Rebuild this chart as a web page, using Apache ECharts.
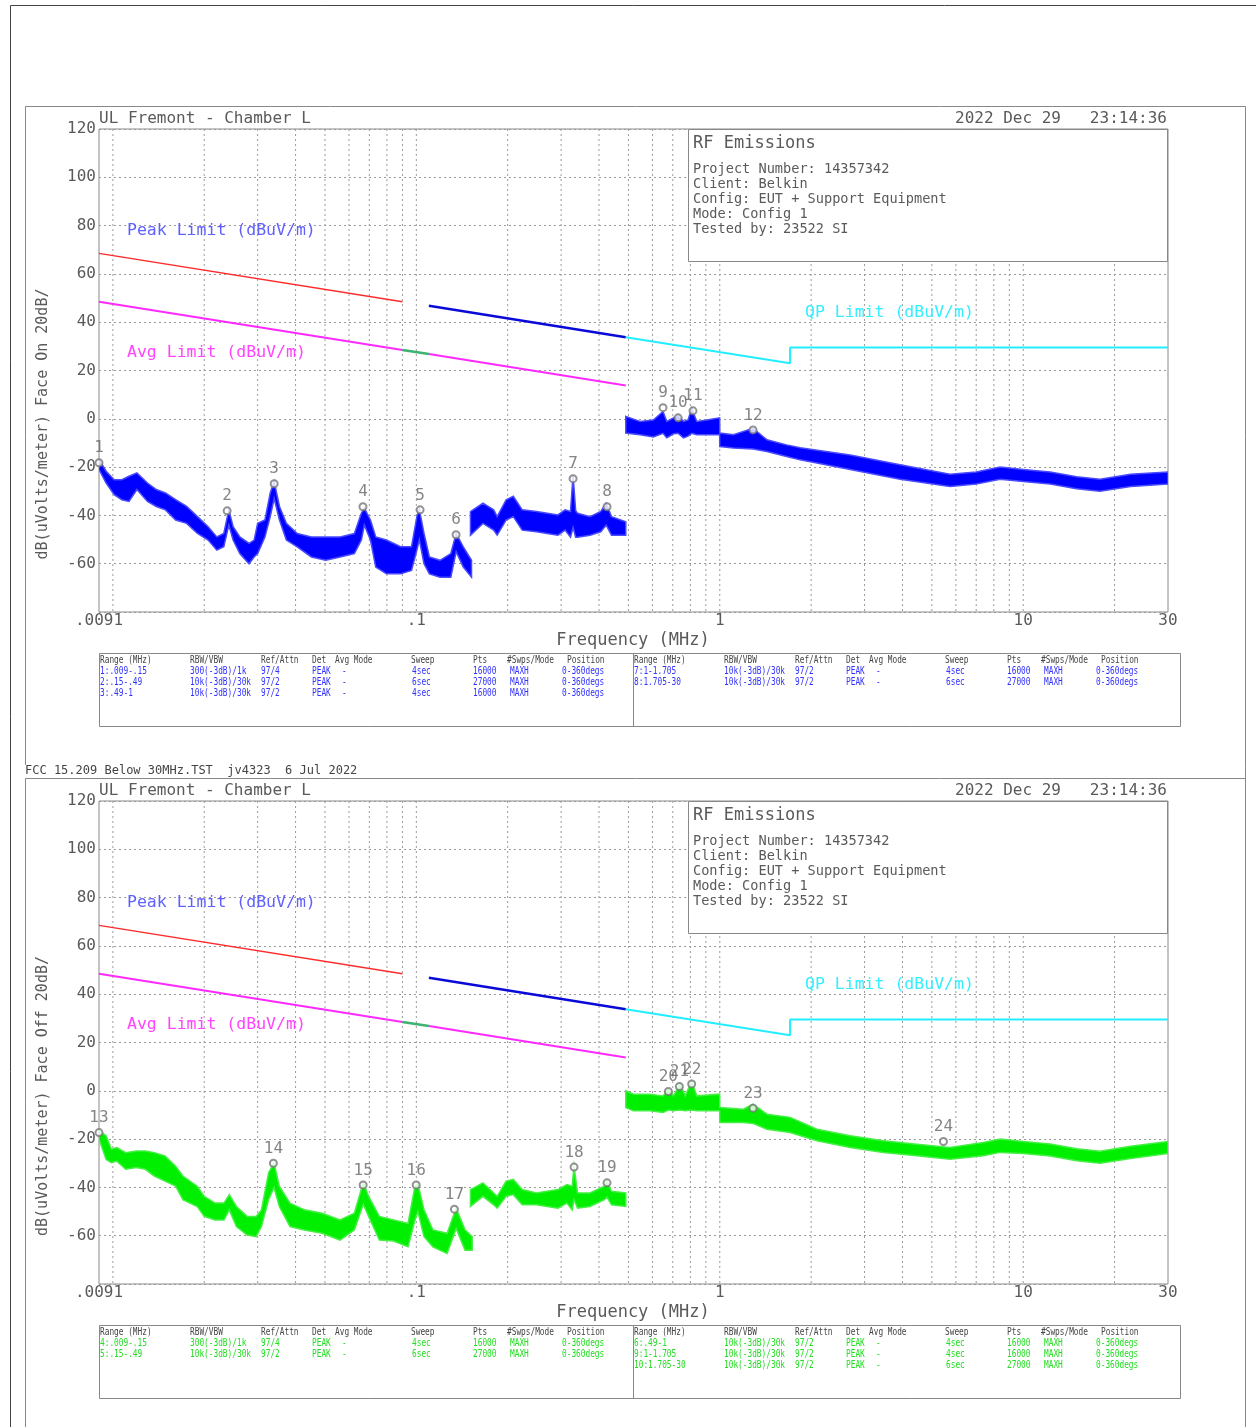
<!DOCTYPE html>
<html><head><meta charset="utf-8">
<script src="https://cdn.jsdelivr.net/npm/echarts@6/dist/echarts.min.js"></script>
<style>html,body{margin:0;padding:0;background:#fff}#c{width:1256px;height:1427px}</style>
</head><body><div id="c"></div><script>
// ---------- DATA ----------
const xLabelValues = [0.009, 0.1, 1, 10, 30];
const xLabelTexts = ['.0091', '.1', '1', '10', '30'];
const gridFreqs = [0.01,0.02,0.03,0.04,0.05,0.06,0.07,0.08,0.09,0.1,0.2,0.3,0.4,0.5,0.6,0.7,0.8,0.9,1,2,3,4,5,6,7,8,9,10,20];

// limit lines [MHz, dBuV/m]
const peakLimitA = [[0.009,68.5],[0.09,48.5]];
const avgLimitA = [[0.009,48.5],[0.09,28.5]];
const avgLimitMid = [[0.09,28.5],[0.11,26.8]];
const avgLimitB = [[0.11,26.8],[0.49,13.8]];
const peakLimitB = [[0.11,46.8],[0.49,33.8]];
const qpLimit = [[0.49,33.8],[1.705,23.0],[1.705,29.5],[30,29.5]];

// markers [MHz, dB, label]
const topMarkers = [[0.009,-18.2,'1'],[0.0238,-38.1,'2'],[0.034,-26.9,'3'],[0.0667,-36.4,'4'],[0.1029,-37.7,'5'],[0.1352,-48.0,'6'],[0.3285,-24.8,'7'],[0.425,-36.4,'8'],[0.650,4.6,'9'],[0.729,0.4,'10'],[0.816,3.3,'11'],[1.287,-4.6,'12']];
const botMarkers = [[0.009,-17.3,'13'],[0.0338,-30.0,'14'],[0.0668,-39.0,'15'],[0.0999,-39.0,'16'],[0.1335,-49.0,'17'],[0.331,-31.6,'18'],[0.425,-38.1,'19'],[0.677,-0.3,'20'],[0.736,1.8,'21'],[0.808,2.8,'22'],[1.287,-7.2,'23'],[5.46,-21.0,'24']];

// trace envelopes [MHz, upper dB, lower dB]
const topSeg1 = [[0.009,-16.8,-21.0],[0.0095,-21.7,-26.6],[0.0101,-25.2,-31.4],[0.0107,-25.2,-33.5],[0.0113,-23.8,-34.2],[0.0120,-22.4,-29.3],[0.0130,-26.6,-34.2],[0.0139,-29.3,-36.3],[0.0149,-30.7,-37.7],[0.0161,-33.5,-41.9],[0.0175,-36.3,-43.3],[0.0190,-40.5,-47.5],[0.0206,-44.7,-50.2],[0.0220,-48.9,-54.4],[0.0232,-47.5,-53.0],[0.0241,-37.7,-44.0],[0.0249,-44.7,-50.2],[0.0262,-48.9,-55.8],[0.0281,-51.6,-60.0],[0.0292,-50.2,-57.2],[0.0300,-43.3,-55.8],[0.0317,-41.9,-48.9],[0.0330,-30.7,-40.5],[0.0340,-26.0,-33.0],[0.0354,-36.3,-41.9],[0.0373,-43.3,-50.2],[0.0405,-47.5,-53.0],[0.0451,-48.9,-57.2],[0.0503,-48.9,-58.6],[0.0561,-48.9,-57.2],[0.0625,-47.5,-55.8],[0.0659,-39.1,-50.2],[0.0674,-37.0,-44.0],[0.0706,-41.9,-50.2],[0.0735,-48.9,-61.4],[0.0797,-50.2,-64.2],[0.0888,-53.0,-64.2],[0.0964,-53.0,-62.8],[0.1004,-40.5,-54.4],[0.1023,-37.5,-50.0],[0.1060,-47.5,-60.0],[0.1104,-57.2,-64.2],[0.1197,-58.6,-65.6],[0.1299,-55.8,-65.6],[0.1353,-47.5,-55.0],[0.1428,-53.0,-61.4],[0.1520,-58.6,-65.6]];
const topSeg2 = [[0.1508,-38.4,-48.2],[0.1658,-34.9,-43.3],[0.1798,-37.7,-46.1],[0.1847,-40.5,-48.2],[0.1977,-33.5,-41.9],[0.2087,-32.1,-40.5],[0.2233,-37.7,-46.1],[0.2488,-38.4,-46.8],[0.2699,-39.1,-47.5],[0.2929,-39.8,-48.2],[0.3092,-37.7,-46.1],[0.3221,-38.4,-49.0],[0.3285,-23.5,-45.0],[0.3350,-38.0,-49.0],[0.3399,-39.1,-49.0],[0.3737,-40.5,-48.2],[0.4053,-38.4,-46.8],[0.4224,-35.0,-44.0],[0.4397,-40.5,-48.2],[0.49,-42.6,-48.2]];
const topSeg3 = [[0.49,1.0,-5.9],[0.546,-1.1,-6.6],[0.604,-0.5,-7.5],[0.650,3.0,-6.0],[0.669,-1.1,-7.9],[0.704,0.4,-6.2],[0.729,1.7,-6.0],[0.759,-1.1,-7.9],[0.786,-0.5,-7.2],[0.808,4.4,-6.0],[0.840,-1.1,-6.6],[0.906,-0.5,-6.6],[0.999,0.4,-6.6],[1.0,-5.9,-11.5],[1.109,-6.6,-12.1],[1.287,-3.9,-12.5],[1.43,-8.7,-13.5],[1.66,-10.8,-15.6],[1.84,-12.0,-17.0],[2.69,-15.0,-21.0],[3.93,-19.0,-25.0],[5.74,-23.0,-28.0],[7.0,-22.0,-27.0],[8.39,-20.0,-25.0],[10,-21.0,-26.0],[12.27,-22.0,-27.0],[15,-24.0,-29.0],[17.9,-25.0,-30.0],[22.6,-23.0,-28.0],[30,-22.0,-27.0]];

const botSeg1 = [[0.009,-16.5,-20.0],[0.0095,-18.6,-28.4],[0.00989,-24.2,-29.8],[0.0103,-23.5,-29.1],[0.01103,-25.6,-32.5],[0.01195,-24.9,-31.8],[0.0128,-24.9,-32.5],[0.01369,-25.6,-35.3],[0.01485,-27.0,-37.4],[0.0161,-31.2,-39.5],[0.01701,-35.3,-45.1],[0.01896,-39.5,-47.9],[0.02001,-43.7,-52.0],[0.02171,-46.5,-53.5],[0.02323,-46.5,-53.5],[0.02419,-43.0,-49.3],[0.02553,-47.9,-56.2],[0.02769,-52.0,-59.7],[0.02965,-52.0,-60.4],[0.03087,-49.3,-56.2],[0.0326,-33.9,-45.1],[0.03395,-29.8,-40.0],[0.03536,-39.5,-47.9],[0.03835,-46.5,-56.2],[0.04274,-49.3,-57.6],[0.04894,-50.7,-59.0],[0.05606,-53.5,-61.8],[0.06248,-50.7,-57.6],[0.06685,-38.0,-47.0],[0.06963,-43.7,-52.0],[0.07552,-52.0,-61.8],[0.08418,-53.5,-62.2],[0.0939,-54.9,-64.6],[0.099,-39.5,-53.5],[0.1012,-38.5,-50.0],[0.106,-49.3,-60.4],[0.1134,-57.6,-64.6],[0.1263,-59.0,-67.4],[0.1353,-48.6,-57.0],[0.1447,-57.6,-66.0],[0.1528,-60.4,-66.0]];
const botSeg2 = [[0.1508,-40.9,-47.9],[0.1658,-38.1,-43.7],[0.1798,-42.3,-47.2],[0.1847,-43.7,-48.6],[0.1977,-37.4,-43.7],[0.2087,-36.7,-43.0],[0.2233,-40.9,-47.2],[0.2488,-42.3,-47.2],[0.2699,-41.6,-47.9],[0.2929,-40.9,-48.6],[0.3135,-38.8,-46.5],[0.3263,-39.5,-49.3],[0.3308,-31.2,-45.0],[0.3399,-42.3,-48.6],[0.3737,-42.3,-47.9],[0.4167,-39.5,-45.1],[0.425,-37.4,-44.0],[0.4397,-41.6,-47.2],[0.49,-42.3,-47.9]];
const botSeg3 = [[0.49,0.0,-6.9],[0.519,-1.4,-8.3],[0.589,-1.4,-8.3],[0.65,-2.1,-9.0],[0.677,0.7,-8.0],[0.704,-2.1,-8.3],[0.74,2.8,-8.0],[0.77,-2.1,-8.3],[0.808,4.1,-8.0],[0.84,-2.1,-8.3],[0.999,-1.4,-8.3],[1.0,-6.9,-13.1],[1.196,-7.6,-13.1],[1.287,-5.5,-13.5],[1.43,-9.7,-15.9],[1.705,-11.0,-17.3],[2.09,-15.9,-20.7],[2.69,-18.6,-23.5],[3.46,-20.7,-25.5],[4.46,-22.1,-26.9],[5.74,-23.5,-28.3],[7.39,-21.4,-26.9],[8.39,-20.0,-25.5],[10,-21.0,-26.0],[12.27,-22.0,-27.0],[15,-24.0,-29.0],[17.9,-25.0,-30.0],[22.6,-23.0,-28.0],[30,-21.0,-26.0]];

// texts
const siteTitle = 'UL Fremont - Chamber L';
const stampText = '2022 Dec 29   23:14:36';
const infoTitle = 'RF Emissions';
const infoLines = ['Project Number: 14357342','Client: Belkin','Config: EUT + Support Equipment','Mode: Config 1','Tested by: 23522 SI'];
const footerText = 'FCC 15.209 Below 30MHz.TST  jv4323  6 Jul 2022';
const tableHeaders = ['Range (MHz)','RBW/VBW','Ref/Attn','Det','Avg Mode','Sweep','Pts','#Swps/Mode','Position'];
const topTableLeft = [['1:.009-.15','300(-3dB)/1k','97/4','PEAK','-','4sec','16000','MAXH','0-360degs'],['2:.15-.49','10k(-3dB)/30k','97/2','PEAK','-','6sec','27000','MAXH','0-360degs'],['3:.49-1','10k(-3dB)/30k','97/2','PEAK','-','4sec','16000','MAXH','0-360degs']];
const topTableRight = [['7:1-1.705','10k(-3dB)/30k','97/2','PEAK','-','4sec','16000','MAXH','0-360degs'],['8:1.705-30','10k(-3dB)/30k','97/2','PEAK','-','6sec','27000','MAXH','0-360degs']];
const botTableLeft = [['4:.009-.15','300(-3dB)/1k','97/4','PEAK','-','4sec','16000','MAXH','0-360degs'],['5:.15-.49','10k(-3dB)/30k','97/2','PEAK','-','6sec','27000','MAXH','0-360degs']];
const botTableRight = [['6:.49-1','10k(-3dB)/30k','97/2','PEAK','-','4sec','16000','MAXH','0-360degs'],['9:1-1.705','10k(-3dB)/30k','97/2','PEAK','-','4sec','16000','MAXH','0-360degs'],['10:1.705-30','10k(-3dB)/30k','97/2','PEAK','-','6sec','27000','MAXH','0-360degs']];

// ---------- RENDER ----------
const FONT = "'DejaVu Sans Mono', monospace";
const GRAY = '#5a5a5a';
const chart = echarts.init(document.getElementById('c'), null, {renderer: 'canvas'});

function bandSeries(data, color, edge, gi) {
  return {type: 'custom', xAxisIndex: gi, yAxisIndex: gi, data: data, encode: {x: 0, y: [1, 2]},
    clip: true, silent: true, z: 3,
    renderItem: function (params, api) {
      if (params.dataIndex !== 0) return null;
      const pts = [];
      for (let i = 0; i < data.length; i++) pts.push(api.coord([data[i][0], data[i][1]]));
      for (let i = data.length - 1; i >= 0; i--) pts.push(api.coord([data[i][0], data[i][2]]));
      return {type: 'polygon', shape: {points: pts}, style: {fill: color, stroke: edge, lineWidth: 1.5}};
    }};
}
function vGridSeries(gi) {
  return {type: 'custom', xAxisIndex: gi, yAxisIndex: gi, data: gridFreqs.map(f => [f, 0]), encode: {x: 0, y: 1},
    silent: true, z: 1,
    renderItem: function (params, api) {
      const a = api.coord([api.value(0), 120]), b = api.coord([api.value(0), -80]);
      return {type: 'line', shape: {x1: a[0], y1: a[1], x2: b[0], y2: b[1]}, style: {stroke: '#9a9a9a', lineWidth: 1, lineDash: [2, 3]}};
    }};
}
function xLabelSeries(gi) {
  return {type: 'custom', xAxisIndex: gi, yAxisIndex: gi, data: xLabelValues.map((f, i) => [f, -80, i]), encode: {x: 0, y: 1},
    silent: true, clip: false, z: 5,
    renderItem: function (params, api) {
      const p = api.coord([api.value(0), -80]);
      return {type: 'text', x: p[0], y: p[1] + 9, style: {text: xLabelTexts[params.dataIndex], fill: GRAY, font: '16px ' + FONT, textAlign: 'center', textVerticalAlign: 'middle'}};
    }};
}
function limitSeries(data, color, w, gi) {
  return {type: 'line', xAxisIndex: gi, yAxisIndex: gi, data: data, symbol: 'none', silent: true, z: 4,
    lineStyle: {color: color, width: w}};
}
function markerSeries(data, gi) {
  return {type: 'scatter', xAxisIndex: gi, yAxisIndex: gi, data: data.map(d => ({value: [d[0], d[1]], name: d[2]})),
    symbol: 'emptyCircle', symbolSize: 7, silent: true, z: 6, clip: false,
    itemStyle: {color: '#777', borderWidth: 1},
    label: {show: true, position: 'top', distance: 2, formatter: p => p.name, color: '#666', fontFamily: FONT, fontSize: 16}};
}

const series = [];
[0, 1].forEach(gi => {
  series.push(vGridSeries(gi), xLabelSeries(gi));
  series.push(limitSeries(peakLimitA, '#ff2a2a', 1.5, gi), limitSeries(avgLimitA, '#ff2aff', 2, gi), limitSeries(avgLimitMid, '#3cb371', 2.5, gi),
    limitSeries(avgLimitB, '#ff2aff', 2, gi), limitSeries(peakLimitB, '#0a0ad8', 2.5, gi), limitSeries(qpLimit, '#22eeff', 2, gi));
});
series.push(bandSeries(topSeg1, '#0000ff', '#4a4aff', 0), bandSeries(topSeg2, '#0000ff', '#4a4aff', 0), bandSeries(topSeg3, '#0000ff', '#4a4aff', 0));
series.push(bandSeries(botSeg1, '#00ee00', '#44f044', 1), bandSeries(botSeg2, '#00ee00', '#44f044', 1), bandSeries(botSeg3, '#00ee00', '#44f044', 1));
series.push(markerSeries(topMarkers, 0), markerSeries(botMarkers, 1));

// graphics
const G = [];
function txt(x, y, s, size, color, opt) {
  G.push(Object.assign({type: 'text', x: x, y: y, z: 101, silent: true,
    style: {text: s, font: size + 'px ' + FONT, fill: color, textAlign: 'left', textVerticalAlign: 'middle'}}, opt || {}));
}
function ln(x1, y1, x2, y2, color) {
  G.push({type: 'line', z: 100, silent: true, shape: {x1: x1, y1: y1, x2: x2, y2: y2}, style: {stroke: color || '#888', lineWidth: 1}});
}
function rect(x, y, w, h) {
  G.push({type: 'rect', z: 100, silent: true, shape: {x: x, y: y, width: w, height: h}, style: {fill: '#fff', stroke: '#888', lineWidth: 1}});
}
// page frames
ln(10.5, 5.5, 1256, 5.5, '#444'); ln(10.5, 5.5, 10.5, 1427, '#444');
ln(25.5, 106.5, 1245.5, 106.5); ln(25.5, 106.5, 25.5, 765); ln(1245.5, 106.5, 1245.5, 1427);
ln(25.5, 778.5, 1245.5, 778.5); ln(25.5, 778.5, 25.5, 1427);

const hdrOff = [1, 91, 162, 213, 236, 312, 374, 408, 468];
const dataOff = [1, 91, 162, 213, 243, 313, 374, 411, 463];
function table(top, leftRows, rightRows, color) {
  rect(99.5, top + 0.5, 1081, 73);
  ln(633.5, top + 0.5, 633.5, top + 73.5);
  [[99, leftRows], [633, rightRows]].forEach(([x0, rows]) => {
    tableHeaders.forEach((h, i) => txt(x0 + hdrOff[i], top + 7, h, 10, '#444', {scaleX: 0.78}));
    rows.forEach((r, ri) => r.forEach((c, i) => txt(x0 + dataOff[i], top + 18 + ri * 11, c, 10, color, {scaleX: 0.78})));
  });
}
function panel(dy, face, leftRows, rightRows, color) {
  txt(99, 119 + dy, siteTitle, 16, GRAY);
  txt(955, 119 + dy, stampText, 16, GRAY);
  rect(688.5, 129.5 + dy, 479, 132);
  txt(693, 144 + dy, infoTitle, 17, GRAY);
  infoLines.forEach((s, i) => txt(693, 169 + dy + i * 15, s, 13.6, GRAY));
  txt(127, 231 + dy, 'Peak Limit (dBuV/m)', 16.5, '#6060ff');
  txt(127, 353 + dy, 'Avg Limit (dBuV/m)', 16.5, '#ff44ff');
  txt(805, 313 + dy, 'QP Limit (dBuV/m)', 16.5, '#33eeff');
  txt(633, 641 + dy, 'Frequency (MHz)', 17, GRAY, {style: {text: 'Frequency (MHz)', font: '17px ' + FONT, fill: GRAY, textAlign: 'center', textVerticalAlign: 'middle'}});
  G.push({type: 'text', x: 43, y: 424 + dy, rotation: Math.PI / 2, z: 101, silent: true,
    style: {text: 'dB(uVolts/meter) Face ' + face + ' 20dB/', font: '15px ' + FONT, fill: GRAY, textAlign: 'center', textVerticalAlign: 'middle'}});
  table(653 + dy, leftRows, rightRows, color);
}
panel(0, 'On', topTableLeft, topTableRight, '#3030ff');
panel(672, 'Off', botTableLeft, botTableRight, '#22dd22');
txt(25, 771, footerText, 12, '#444');

const axisY = gi => ({type: 'value', gridIndex: gi, min: -80, max: 120, interval: 20,
  axisLine: {show: false}, axisTick: {show: false},
  axisLabel: {color: GRAY, fontFamily: FONT, fontSize: 16, margin: 3, formatter: v => v === -80 ? '' : String(v)},
  splitLine: {show: true, lineStyle: {color: '#9a9a9a', width: 1, type: [2, 3]}}});
const axisX = gi => ({type: 'log', logBase: 10, gridIndex: gi, min: 0.009, max: 30,
  axisLine: {show: false}, axisTick: {show: false}, axisLabel: {show: false}, splitLine: {show: false}});

chart.setOption({
  animation: false,
  backgroundColor: '#fff',
  grid: [
    {left: 99, top: 129, width: 1069, height: 483, show: true, borderColor: '#888', borderWidth: 1},
    {left: 99, top: 801, width: 1069, height: 483, show: true, borderColor: '#888', borderWidth: 1}
  ],
  xAxis: [axisX(0), axisX(1)],
  yAxis: [axisY(0), axisY(1)],
  series: series,
  graphic: G
});
</script></body></html>
